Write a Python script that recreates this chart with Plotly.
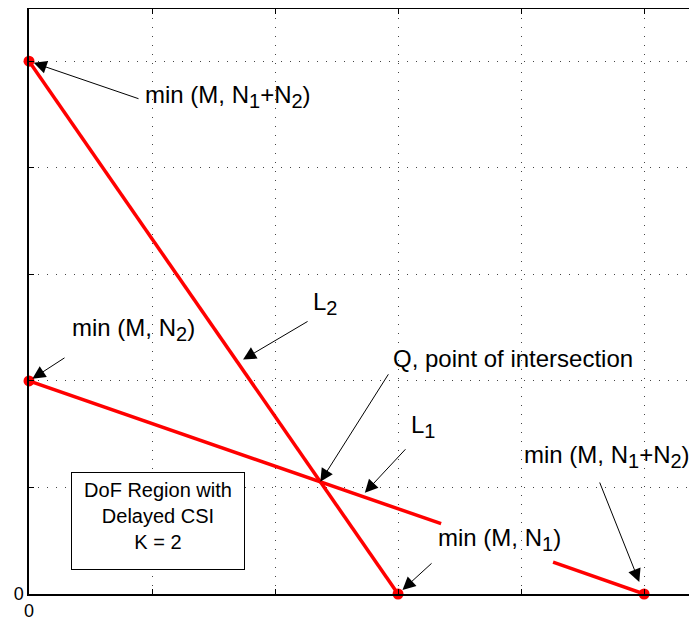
import plotly.graph_objects as go

# corner points of the DoF region (data units)
corner_x = [0, 0, 3, 5]
corner_y = [5, 2, 0, 0]

# L2 : min(M, N1+N2) on the y axis down to min(M, N1) on the x axis
l2_x = [0, 3]
l2_y = [5, 0]

# L1 : drawn in two pieces, the gap leaves room for the "min (M, N1)" label
l1_x = [0, 3.35, None, 4.26, 5]
l1_y = [2, 0.66, None, 0.30, 0]

# Q, intersection of L1 and L2
q_x, q_y = 2.368, 1.053

grid_vals = [0, 1, 2, 3, 4, 5]
grid_text = ["0", "", "", "", "", ""]

FONT = "Liberation Sans, Arial, sans-serif"
RED = "#ff0000"


def sub(s):
    # matlab-ish subscript: bigger and lower than plotly's default
    return "<sub><span style='font-size:20px'>%s</span></sub>" % s


fig = go.Figure()
fig.add_trace(go.Scatter(x=l2_x, y=l2_y, mode="lines",
                         line=dict(color=RED, width=3.5), hoverinfo="skip"))
fig.add_trace(go.Scatter(x=l1_x, y=l1_y, mode="lines", connectgaps=False,
                         line=dict(color=RED, width=3.5), hoverinfo="skip"))
fig.add_trace(go.Scatter(x=corner_x, y=corner_y, mode="markers",
                         marker=dict(color=RED, size=11), cliponaxis=False))

# arrows: (head x, head y, tail offset x px, tail offset y px, standoff)
arrows = [
    (corner_x[0], corner_y[0], 111, 38, 5),
    (corner_x[1], corner_y[1], 37, -24, 4),
    (1.74, 2.2, 66, -39, 0),
    (q_x, q_y, 69, -109, 0),
    (2.73, 0.95, 42, -45, 0),
    (corner_x[2], corner_y[2], 35, -32, 6),
    (corner_x[3], corner_y[3], -45, -113, 13),
]
for hx, hy, ax, ay, so in arrows:
    fig.add_annotation(x=hx, y=hy, ax=ax, ay=ay, text="", showarrow=True,
                       arrowhead=2, arrowsize=2.6, arrowwidth=1, arrowcolor="black",
                       standoff=so)

# labels: (text, x, y)
labels = [
    ("min (M, N" + sub(1) + "+N" + sub(2) + ")", 0.927, 4.67),
    ("min (M, N" + sub(2) + ")", 0.333, 2.48),
    ("L" + sub(2), 2.29, 2.73),
    ("Q, point of intersection", 2.94, 2.21),
    ("L" + sub(1), 3.09, 1.57),
    ("min (M, N" + sub(1) + ")", 3.31, 0.51),
    ("min (M, N" + sub(1) + "+N" + sub(2) + ")", 4.01, 1.29),
]
for txt, tx, ty in labels:
    fig.add_annotation(x=tx, y=ty, text=txt, showarrow=False, xanchor="left",
                       yanchor="middle", font=dict(family=FONT, size=24, color="black"))

fig.add_annotation(x=0.341, y=1.146, xanchor="left", yanchor="top",
                   text="DoF Region with<br>Delayed CSI<br>K = 2",
                   showarrow=False, align="center", valign="top",
                   width=160, height=84, bgcolor="white",
                   bordercolor="black", borderwidth=1, borderpad=6,
                   font=dict(family=FONT, size=20, color="black"))

axis_common = dict(
    tickvals=grid_vals, ticktext=grid_text, ticks="inside", ticklen=5,
    tickcolor="black", showline=True, linecolor="black", linewidth=1.5,
    showgrid=True, gridcolor="#444", griddash="1px,8px", gridwidth=1,
    zeroline=False, tickfont=dict(family=FONT, size=18, color="black"),
    fixedrange=True, automargin=False,
)
fig.update_xaxes(range=[0, 5.43], mirror="ticks", **axis_common)
fig.update_yaxes(range=[0, 5.49], **axis_common)

# the page body keeps its 8px margin, so the figure is 8px smaller than the window
fig.update_layout(
    width=689, height=613, showlegend=False,
    margin=dict(l=21, r=0, t=1, b=27),
    plot_bgcolor="white", paper_bgcolor="white",
)

fig.write_html("out.html")
